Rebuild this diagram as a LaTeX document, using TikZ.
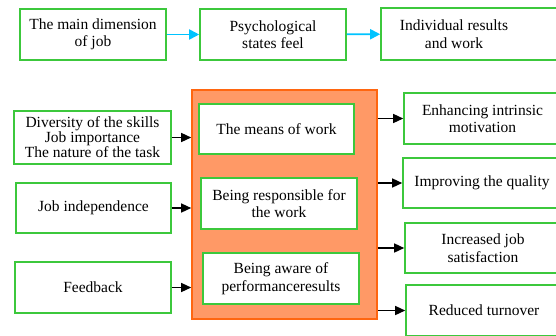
\documentclass[tikz,border=0pt]{standalone}
\usepackage{fontspec}
\setmainfont{Liberation Serif}
\newfontfamily\boxfont{Liberation Serif}
\usetikzlibrary{shapes,arrows.meta,positioning,calc}

\definecolor{boxgreen}{RGB}{60,200,60}
\definecolor{panelorange}{RGB}{255,153,102}
\definecolor{paneledge}{RGB}{255,102,16}
\definecolor{flowcyan}{RGB}{0,195,255}

\tikzset{
  gbox/.style={draw=boxgreen, line width=1.6pt, fill=white, align=center,
    inner sep=1pt, font=\boxfont\fontsize{15.5}{17.5}\selectfont},
  flow/.style={draw=flowcyan, line width=1.8pt, -{Triangle[length=10pt,width=10pt]}},
  link/.style={draw=black, line width=1.4pt, -{Triangle[length=10pt,width=9pt]}}
}

\begin{document}
\begin{tikzpicture}[x=1pt,y=-1pt]
  \useasboundingbox (0,0) rectangle (556,335);
  \begin{scope}
  \clip (0,0) rectangle (556,335);
  %top row
  \node [gbox, minimum width=146, minimum height=51] (dim) at (93,34.5) {The main dimension\\of job};
  \node [gbox, minimum width=146, minimum height=51] (states) at (273,34.5) {Psychological\\states feel};
  \node [gbox, minimum width=178, minimum height=52] (results) at (470,34)
    {Individual results\hspace*{32pt}\\and work\hspace*{32pt}};
  \draw [flow] (dim) -- (states);
  \draw [flow] (states) -- (results);

  %middle panel
  \node [draw=paneledge, fill=panelorange, line width=1.6pt, minimum width=185, minimum height=229] (panel) at (284.5,204.5) {};
  \node [gbox, minimum width=155, minimum height=50] (means) at (276.5,129) {The means of work};
  \node [gbox, minimum width=156, minimum height=51] (resp) at (279,203.5) {Being responsible for\\the work};
  \node [gbox, minimum width=156, minimum height=51] (aware) at (281,278.5) {Being aware of\\performanceresults};

  %left column
  \node [gbox, minimum width=157, minimum height=53, font=\boxfont\fontsize{15.5}{15}\selectfont] (skills) at (92.5,137.5) {Diversity of the skills\\Job importance\\The nature of the task};
  \node [gbox, minimum width=155, minimum height=50] (indep) at (93.5,208) {Job independence};
  \node [gbox, minimum width=156, minimum height=51] (feedback) at (93,287.5) {Feedback};

  %right column
  \node [gbox, minimum width=157, minimum height=51] (motiv) at (482.5,118.5) {Enhancing intrinsic\\motivation};
  \node [gbox, minimum width=158, minimum height=50] (quality) at (482,183) {Improving the quality};
  \node [gbox, minimum width=156, minimum height=50] (satis) at (483,248) {Increased job\\satisfaction};
  \node [gbox, minimum width=156, minimum height=51] (turnover) at (484,310.5) {Reduced turnover};

  \draw [link] (skills.east) -- (panel.west |- skills.east);
  \draw [link] (indep.east) -- (panel.west |- indep.east);
  \draw [link] (feedback.east) -- (panel.west |- feedback.east);

  \draw [link] (panel.east |- motiv.west) -- (motiv.west);
  \draw [link] (panel.east |- quality.west) -- (quality.west);
  \draw [link] (panel.east |- satis.west) -- (satis.west);
  \draw [link] (panel.east |- turnover.west) -- (turnover.west);
  \end{scope}
\end{tikzpicture}
\end{document}
